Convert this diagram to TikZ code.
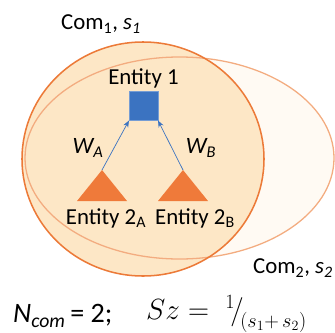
\documentclass[tikz,border=0pt]{standalone}
\usepackage{fontspec}
\setmainfont{Carlito}
\usetikzlibrary{arrows.meta, positioning, calc}
\definecolor{comfill}{HTML}{FDE7C6}
\definecolor{comline}{HTML}{EC7A38}
\definecolor{cmtfill}{HTML}{FFFAF3}
\definecolor{cmtline}{HTML}{F3AC80}
\definecolor{entblue}{HTML}{3B73C1}
\definecolor{tri}{HTML}{EF7A3A}
\tikzset{
  cone/.style = {fill=comfill},
  ctwo/.style = {fill=cmtfill},
  cone line/.style = {draw=comline, line width=1.3pt},
  ctwo line/.style = {draw=cmtline, line width=1.1pt},
  ent/.style = {draw=entblue!70!white, fill=entblue, minimum size=0.86cm,
    inner sep=0pt, line width=0.4pt},
  lbl/.style = {font=\fontsize{19.5}{21}\selectfont, inner sep=1pt},
  wt/.style = {font=\fontsize{20}{22}\selectfont\itshape, inner sep=1pt},
  prox/.style = {-{Stealth[length=2mm, width=1.6mm]}, draw=entblue, line width=0.6pt},
  form/.style = {font=\fontsize{24}{26}\selectfont, inner sep=0pt}
}

\begin{document}
\begin{tikzpicture}[x=0.03cm, y=-0.03cm]
  \useasboundingbox (0,0) rectangle (335,332);
  % communities
  \fill [ctwo] (179.5,158) ellipse [x radius=154.5, y radius=101];
  \fill [cone] (143,159) ellipse [x radius=121, y radius=117];
  \draw [ctwo line] (179.5,158) ellipse [x radius=154.5, y radius=101];
  \draw [cone line] (143,159) ellipse [x radius=121, y radius=117];
  \node [lbl] (c1) at (101,24) {Com\textsubscript{1}, \textit{s\textsubscript{1}}};
  \node [lbl] (c2) at (293,268) {Com\textsubscript{2}, \textit{s\textsubscript{2}}};
  % entities
  \node [ent] (e1) at (143.5,106) {};
  \node [lbl, above=2pt of e1] (e1l) {Entity 1};
  \coordinate (ta) at (102,170);
  \coordinate (tb) at (183,170);
  \fill [tri] (ta) -- ++(25,31) -- ++(-50,0) -- cycle;
  \fill [tri] (tb) -- ++(25,31) -- ++(-50,0) -- cycle;
  \node [lbl] (e2a) at (106,218) {Entity 2\textsubscript{A}};
  \node [lbl] (e2b) at (195,218) {Entity 2\textsubscript{B}};
  \draw [prox] (ta) -- (e1.south west);
  \draw [prox] (tb) -- (e1.south east);
  \node [wt] (wa) at (88,148) {W\textsubscript{A}};
  \node [wt] (wb) at (201,148) {W\textsubscript{B}};
  % counts
  \node [form, anchor=west] (nc) at (13,316) {\textit{N\textsubscript{com}}\,= 2;};
  \node [form, anchor=west] (sz) at (146,314)
    {$Sz=\;{}^{1}\!\bigg/_{\!(s_1+\,s_2)}$};
\end{tikzpicture}
\end{document}
